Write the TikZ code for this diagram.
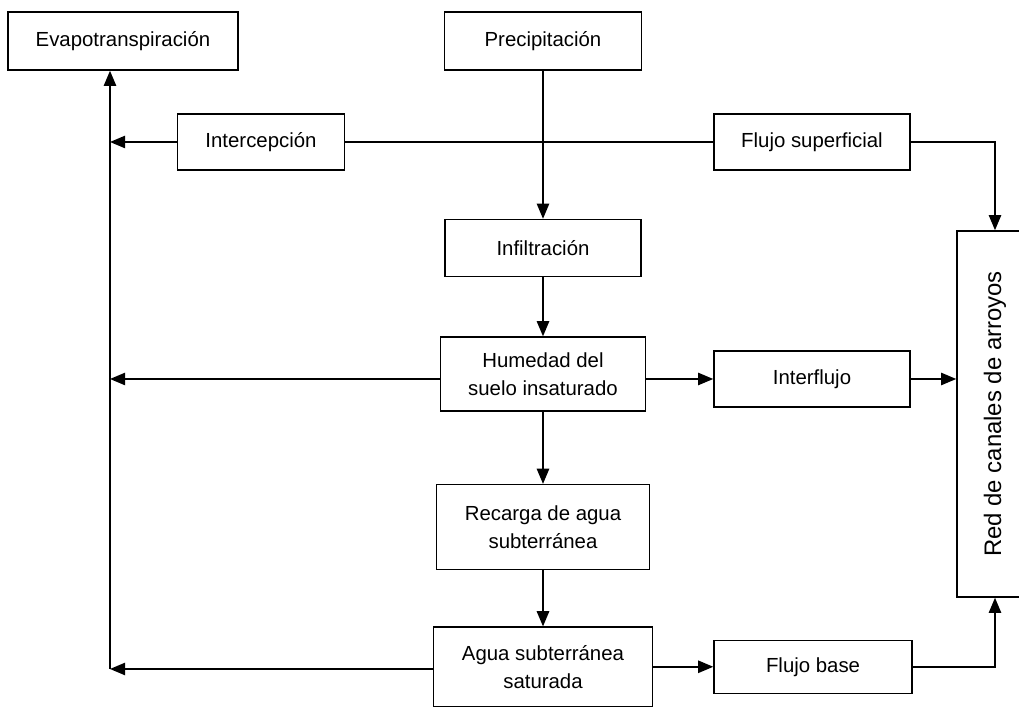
\documentclass[tikz,border=0pt]{standalone}
\usepackage{fontspec}
\setmainfont{Liberation Sans}
\usetikzlibrary{arrows.meta,positioning}

\begin{document}
\begin{tikzpicture}[
    every node/.style={font=\fontsize{14.5}{20}\selectfont},
    box/.style={draw=black,line width=1.1pt,align=center,inner sep=2pt},
    arrow/.style={-{Triangle[length=3.8mm,width=3.1mm]},line width=1.1pt,draw=black},
    link/.style={line width=1.1pt,draw=black}
  ]
  \useasboundingbox (0,0) rectangle (25.475,17.675);

  % central column
  \node[box,minimum width=4.925cm,minimum height=1.45cm] (precip) at (13.575,16.65) {Precipitación};
  \node[box,minimum width=4.9cm,minimum height=1.425cm,below=3.7cm of precip] (infil) {Infiltración};
  \node[box,minimum width=5.125cm,minimum height=1.85cm,below=1.475cm of infil] (humedad) {Humedad del\\suelo insaturado};
  \node[box,minimum width=5.325cm,minimum height=2.125cm,below=1.8cm of humedad] (recarga) {Recarga de agua\\subterránea};
  \node[box,minimum width=5.475cm,minimum height=1.98cm,below=1.4cm of recarga] (agua) {Agua subterránea\\saturada};

  % side boxes
  \node[box,minimum width=5.75cm,minimum height=1.45cm,left=5.125cm of precip] (evapo) {Evapotranspiración};
  \node[box,minimum width=4.175cm,minimum height=1.4cm] (inter) at (6.525,14.125) {Intercepción};
  \node[box,minimum width=4.9cm,minimum height=1.4cm] (fsup) at (20.3,14.125) {Flujo superficial};
  \node[box,minimum width=4.9cm,minimum height=1.4cm] (interflujo) at (20.3,8.2) {Interflujo};
  \node[box,minimum width=4.95cm,minimum height=1.325cm,right=1.5cm of agua] (fbase) {Flujo base};
  \node[box,minimum width=1.9cm,minimum height=9.15cm] (red) at (24.875,7.325)
    {\fontsize{17}{20}\selectfont\rotatebox{90}{Red de canales de arroyos}};

  % evaporation trunk
  \coordinate (trunk) at (2.75,0.95);

  \draw[link] (inter) -- (fsup);
  \draw[arrow] (precip) -- (infil);
  \draw[arrow] (infil) -- (humedad);
  \draw[arrow] (humedad) -- (recarga);
  \draw[arrow] (recarga) -- (agua);

  \draw[arrow] (trunk) -- (trunk |- evapo.south);
  \draw[arrow] (inter) -- (trunk |- inter);
  \draw[arrow] (interflujo.west -| humedad.west) -- (trunk |- interflujo);
  \draw[arrow] (agua.west |- trunk) -- (trunk);

  \draw[arrow] (interflujo.west -| humedad.east) -- (interflujo.west);
  \draw[arrow] (agua.east |- fbase) -- (fbase);
  \draw[arrow] (interflujo.east) -- (interflujo.east -| red.west);
  \draw[arrow] (fsup.east) -| (red.north);
  \draw[arrow] (fbase.east) -| (red.south);
\end{tikzpicture}
\end{document}
